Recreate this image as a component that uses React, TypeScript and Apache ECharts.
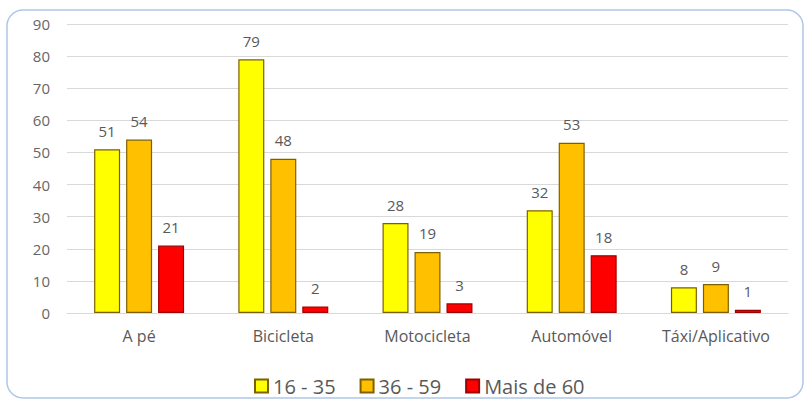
import React, { useEffect, useRef } from "react";
import * as echarts from "echarts";

const categories = ["A pé", "Bicicleta", "Motocicleta", "Automóvel", "Táxi/Aplicativo"];
const s1Name = "16 - 35";
const s2Name = "36 - 59";
const s3Name = "Mais de 60";
const s1 = [51, 79, 28, 32, 8];
const s2 = [54, 48, 19, 53, 9];
const s3 = [21, 2, 3, 18, 1];

const FONT = "'Open Sans', Lato, sans-serif";

export default function App() {
  const ref = useRef<HTMLDivElement>(null);
  useEffect(() => {
    if (!ref.current) return;
    const chart = echarts.init(ref.current, undefined, { renderer: "svg" });
    const label = {
      show: true,
      position: "top",
      distance: 11,
      color: "#595959",
      fontSize: 15,
      fontFamily: FONT,
    };
    const mk = (name: string, data: number[], color: string, border: string) => ({
      name,
      type: "bar",
      data,
      barWidth: 26,
      barGap: "23%",
      itemStyle: { color, borderColor: border, borderWidth: 1.2 },
      label,
    });
    chart.setOption({
      animation: false,
      textStyle: { fontFamily: FONT },
      graphic: [
        {
          type: "rect",
          shape: { x: 7, y: 10, width: 796, height: 388, r: 16 },
          style: { fill: "none", stroke: "#aec7e8", lineWidth: 1.5 },
          silent: true,
        },
      ],
      grid: { left: 67, right: 17, top: 24, bottom: 88 },
      xAxis: {
        type: "category",
        data: categories,
        axisLine: { show: true, lineStyle: { color: "#d9d9d9" } },
        axisTick: { show: false },
        axisLabel: { color: "#595959", fontSize: 16, margin: 15, fontFamily: FONT },
      },
      yAxis: {
        type: "value",
        min: 0,
        max: 90,
        interval: 10,
        axisLine: { show: false },
        axisTick: { show: false },
        splitLine: { lineStyle: { color: "#d9d9d9" } },
        axisLabel: { color: "#666666", fontSize: 15, margin: 17, fontFamily: FONT },
      },
      legend: {
        top: 371,
        left: 249,
        itemWidth: 13,
        itemHeight: 13,
        itemGap: 24,
        icon: "rect",
        textStyle: { color: "#595959", fontSize: 20, fontFamily: FONT },
        data: [s1Name, s2Name, s3Name],
      },
      series: [
        mk(s1Name, s1, "#ffff00", "#7f6000"),
        mk(s2Name, s2, "#ffc000", "#7f6000"),
        mk(s3Name, s3, "#ff0000", "#a00000"),
      ],
    });
    return () => chart.dispose();
  }, []);
  return (
    <div
      ref={ref}
      style={{ position: "fixed", left: 0, top: 0, width: 805, height: 401, background: "#fff" }}
    />
  );
}
